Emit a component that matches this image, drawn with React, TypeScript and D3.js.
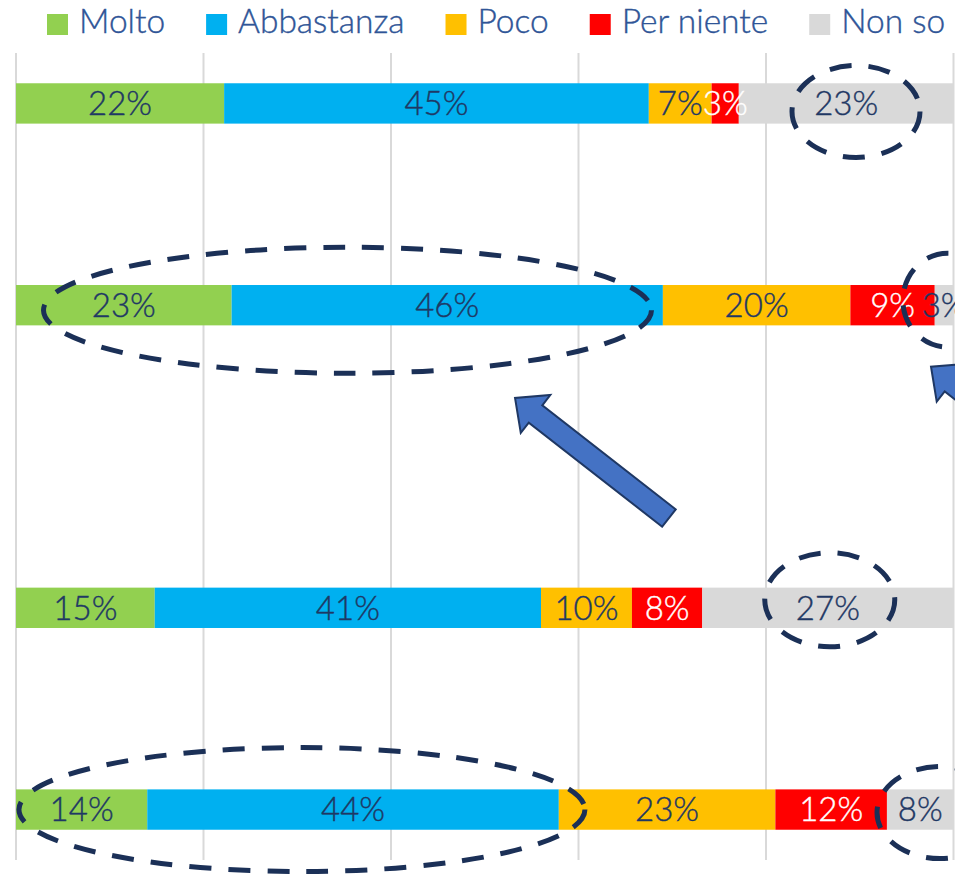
import React, { useEffect, useRef } from "react";
import * as d3 from "d3";

// ---- data ----
const categories = ["Domanda 1", "Domanda 2", "Domanda 3", "Domanda 4"];
const categorySlots = [0, 2, 5, 7];
const slotCount = 8;
const seriesNames = ["Molto", "Abbastanza", "Poco", "Per niente", "Non so"];
const molto = [22.2, 23.0, 14.8, 14.0];
const abbastanza = [45.3, 46.0, 41.2, 43.9];
const poco = [6.7, 20.0, 9.7, 23.1];
const perNiente = [2.9, 9.0, 7.5, 11.9];
const nonSo = [22.9, 2.5, 26.8, 7.5];
const xTicks = [0, 20, 40, 60, 80, 100];

// ---- styles ----
const seriesColors = ["#92D050", "#00B0F0", "#FFC000", "#FF0000", "#D9D9D9"];
const labelColors = ["#1F3864", "#1F3864", "#1F3864", "#FFFFFF", "#1F3864"];
const FONT = "Lato, 'Open Sans', sans-serif";

// annotations (x in % of axis, y in fractional category slot)
const ellipses = [
  { x: 89.6, s: 0.08, rx: 64, ry: 46 },
  { x: 35.36, s: 2.05, rx: 304, ry: 63 },
  { x: 99.4, s: 1.95, rx: 45, ry: 47 },
  { x: 86.8, s: 4.92, rx: 65, ry: 47 },
  { x: 30.5, s: 7.0, rx: 283, ry: 62 },
  { x: 98.56, s: 7.03, rx: 63, ry: 46 },
];
const arrows = [
  { x1: 69.65, s1: 4.11, x2: 53.23, s2: 2.92 },
  { x1: 114.0, s1: 3.8, x2: 97.6, s2: 2.61 },
];

const W = 955;
const H = 876;

export default function App() {
  const ref = useRef<SVGSVGElement | null>(null);

  useEffect(() => {
    const svg = d3.select(ref.current);
    svg.selectAll("*").remove();

    const x = d3.scaleLinear().domain([0, 100]).range([16, 953.5]);
    const y = d3
      .scaleBand<number>()
      .domain(d3.range(slotCount))
      .range([53, 860])
      .paddingInner(0.6)
      .paddingOuter(0.3);
    const slotY = (s: number) => (y(0) as number) + y.bandwidth() / 2 + s * y.step();

    const series = [molto, abbastanza, poco, perNiente, nonSo];

    // gridlines
    svg
      .append("g")
      .selectAll("line")
      .data(xTicks)
      .join("line")
      .attr("x1", (d) => x(d))
      .attr("x2", (d) => x(d))
      .attr("y1", 53)
      .attr("y2", 860)
      .attr("stroke", "#D9D9D9")
      .attr("stroke-width", 2);

    // stacked bars
    const rows = categories.map((c, i) => {
      let cum = 0;
      return series.map((vals, k) => {
        const v = vals[i];
        const x0 = cum;
        cum += v;
        const x1 = Math.min(cum, 100);
        return { cat: c, slot: categorySlots[i], k, v, x0, x1 };
      });
    });
    const segs = rows.flat();

    const gBars = svg.append("g");
    gBars
      .selectAll("rect")
      .data(segs)
      .join("rect")
      .attr("x", (d) => x(d.x0))
      .attr("width", (d) => Math.max(0, x(d.x1) - x(d.x0)))
      .attr("y", (d) => y(d.slot) as number)
      .attr("height", y.bandwidth())
      .attr("fill", (d) => seriesColors[d.k]);

    const fs = 33;
    gBars
      .selectAll("text")
      .data(segs)
      .join("text")
      .attr("x", (d) => x((d.x0 + d.x1) / 2))
      .attr("y", (d) => (y(d.slot) as number) + y.bandwidth() / 2 + fs * 0.36)
      .attr("text-anchor", "middle")
      .attr("font-family", FONT)
      .attr("font-weight", 300)
      .attr("font-size", fs)
      .attr("fill", (d) => labelColors[d.k])
      .attr("stroke", (d) => labelColors[d.k])
      .attr("stroke-width", 0.4)
      .text((d) => `${Math.round(d.v)}%`);

    // legend
    const gLeg = svg.append("g");
    let lx = 47;
    seriesNames.forEach((name, k) => {
      gLeg
        .append("rect")
        .attr("x", lx)
        .attr("y", 14)
        .attr("width", 21)
        .attr("height", 21)
        .attr("fill", seriesColors[k]);
      const t = gLeg
        .append("text")
        .attr("x", lx + 32)
        .attr("y", 33)
        .attr("font-family", FONT)
        .attr("font-weight", 300)
        .attr("font-size", 33.5)
        .attr("fill", "#2F5597")
        .attr("stroke", "#2F5597")
        .attr("stroke-width", 0.4)
        .text(name);
      const w = (t.node() as SVGTextElement).getComputedTextLength();
      lx = lx + 32 + w + 41;
    });

    // ellipses
    svg
      .append("g")
      .selectAll("ellipse")
      .data(ellipses)
      .join("ellipse")
      .attr("cx", (d) => x(d.x))
      .attr("cy", (d) => slotY(d.s))
      .attr("rx", (d) => d.rx)
      .attr("ry", (d) => d.ry)
      .attr("fill", "none")
      .attr("stroke", "#1B3057")
      .attr("stroke-width", 5)
      .attr("stroke-dasharray", "22 17");

    // arrows
    const shaftW = 22;
    const headW = 48;
    const headL = 26;
    svg
      .append("g")
      .selectAll("path")
      .data(arrows)
      .join("path")
      .attr("d", (d) => {
        const tx = x(d.x1), ty = slotY(d.s1);
        const hx = x(d.x2), hy = slotY(d.s2);
        const L = Math.hypot(hx - tx, hy - ty);
        const ang = Math.atan2(hy - ty, hx - tx);
        const pts: [number, number][] = [
          [0, -shaftW / 2],
          [L - headL, -shaftW / 2],
          [L - headL, -headW / 2],
          [L, 0],
          [L - headL, headW / 2],
          [L - headL, shaftW / 2],
          [0, shaftW / 2],
        ];
        const c = Math.cos(ang), s = Math.sin(ang);
        const p = pts.map(([u, v]) => [tx + u * c - v * s, ty + u * s + v * c]);
        return "M" + p.map((q) => q.join(",")).join("L") + "Z";
      })
      .attr("fill", "#4472C4")
      .attr("stroke", "#1F3864")
      .attr("stroke-width", 2)
      .attr("stroke-linejoin", "miter");
  }, []);

  return (
    <svg
      ref={ref}
      width={W}
      height={H}
      style={{ position: "absolute", left: 0, top: 0, background: "#fff" }}
    />
  );
}
